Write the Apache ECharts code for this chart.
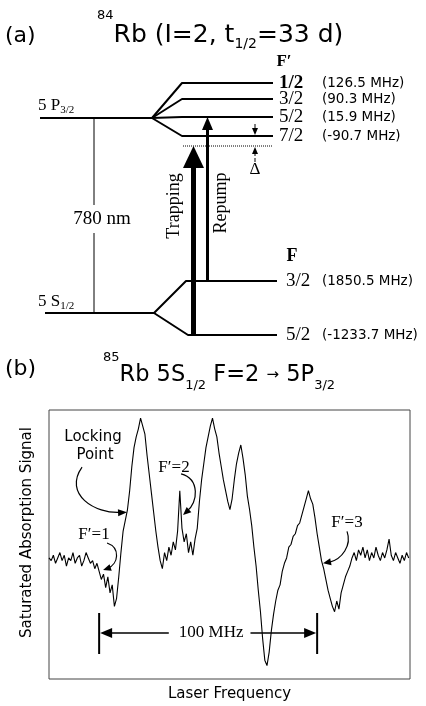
<!DOCTYPE html>
<html>
<head>
<meta charset="utf-8">
<title>Rb trapping scheme and saturated absorption</title>
<script src="https://cdn.jsdelivr.net/npm/echarts@6/dist/echarts.min.js"></script>
<style>
  html, body { margin: 0; padding: 0; background: #fff; }
  #chart { width: 426px; height: 706px; }
</style>
</head>
<body>
<div id="chart"></div>
<script>
//  (a) hyperfine levels of 84Rb
var upperF = ['1/2', '3/2', '5/2', '7/2'];
var upperShift = ['(126.5 MHz)', '(90.3 MHz)', '(15.9 MHz)', '(-90.7 MHz)'];
var lowerF = ['3/2', '5/2'];
var lowerShift = ['(1850.5 MHz)', '(-1233.7 MHz)'];

//  (b) saturated absorption trace (laser frequency in MHz, signal in arb. units)
var freqMHz = [0, 1, 2, 3, 4, 5, 6, 7, 8, 9, 10, 11, 12, 13, 14, 15, 16, 17, 18, 19,
    20, 21, 22, 23, 24, 25, 26, 27, 28, 29, 30, 31, 32, 33, 34, 35, 36, 37, 38, 39,
    40, 41, 42, 43, 44, 45, 46, 47, 48, 49, 50, 51, 52, 53, 54, 55, 56, 57, 58, 59,
    60, 61, 62, 63, 64, 65, 66, 67, 68, 69, 70, 71, 72, 73, 74, 75, 76, 77, 78, 79,
    80, 81, 82, 83, 84, 85, 86, 87, 88, 89, 90, 91, 92, 93, 94, 95, 96, 97, 98, 99,
    100, 101, 102, 103, 104, 105, 106, 107, 108, 109, 110, 111, 112, 113, 114, 115, 116, 117, 118, 119,
    120, 121, 122, 123, 124, 125, 126, 127, 128, 129, 130, 131, 132, 133, 134, 135, 136, 137, 138, 139,
    140, 141, 142, 143, 144, 145, 146, 147, 148, 149, 150, 151, 152, 153, 154, 155, 156, 157, 158, 159,
    160, 161, 162, 163, 164, 165];
var signal = [0.45, 0.44, 0.46, 0.43, 0.45, 0.47, 0.44, 0.46, 0.42, 0.45,
    0.44, 0.47, 0.43, 0.45, 0.46, 0.42, 0.44, 0.47, 0.45, 0.43,
    0.44, 0.41, 0.43, 0.40, 0.37, 0.39, 0.34, 0.38, 0.32, 0.35,
    0.27, 0.30, 0.38, 0.47, 0.55, 0.59, 0.63, 0.70, 0.79, 0.86,
    0.90, 0.93, 0.97, 0.94, 0.91, 0.83, 0.76, 0.69, 0.62, 0.55,
    0.49, 0.44, 0.41, 0.47, 0.44, 0.49, 0.46, 0.51, 0.48, 0.55,
    0.70, 0.56, 0.51, 0.54, 0.47, 0.51, 0.46, 0.52, 0.56, 0.66,
    0.74, 0.80, 0.86, 0.90, 0.94, 0.97, 0.93, 0.90, 0.84, 0.79,
    0.74, 0.70, 0.66, 0.63, 0.67, 0.74, 0.80, 0.84, 0.87, 0.82,
    0.76, 0.68, 0.63, 0.57, 0.49, 0.42, 0.33, 0.25, 0.15, 0.07,
    0.05, 0.10, 0.18, 0.24, 0.29, 0.33, 0.35, 0.40, 0.43, 0.45,
    0.49, 0.50, 0.53, 0.54, 0.57, 0.58, 0.61, 0.64, 0.67, 0.70,
    0.67, 0.65, 0.60, 0.54, 0.49, 0.44, 0.41, 0.37, 0.33, 0.30,
    0.27, 0.25, 0.29, 0.26, 0.32, 0.35, 0.38, 0.40, 0.42, 0.45,
    0.47, 0.44, 0.48, 0.46, 0.49, 0.45, 0.48, 0.44, 0.47, 0.45,
    0.49, 0.46, 0.44, 0.47, 0.45, 0.48, 0.52, 0.46, 0.44, 0.47,
    0.45, 0.43, 0.46, 0.44, 0.47, 0.45];
//  annotated features: name, frequency (MHz) and signal where the arrow points
var markNames = ['Locking Point', "F′=1", "F′=2", "F′=3"];
var markFreq = [35.8, 24.8, 61.5, 125.7];
var markSignal = [0.62, 0.405, 0.61, 0.43];
//  100 MHz scale bar
var scaleMHz = [23, 123];
var scaleSignal = 0.171;

var serif = '"Liberation Serif", "Times New Roman", serif';
var sans = '"DejaVu Sans", sans-serif';

//  schematic layout of panel (a), in canvas pixels
var lv = {
    pLeft: 40, pFan: 152, pSplit: 182, pEnd: 273, pY: 118,
    upperY: [83, 99, 117, 136],
    sLeft: 45, sFan: 154, sSplit: [186, 188], sEnd: 277, sY: 313,
    lowerY: [281, 335],
    nmX: 94, nmGap: [205, 233],
    detY: 146, detX: [183, 273],
    trapX: 193.5, repX: 207.5, deltaX: 255
};

function seg(pts, width, type) {
    return {
        type: 'line', xAxisIndex: 0, yAxisIndex: 0, data: pts, symbol: 'none', silent: true,
        lineStyle: {color: '#000', width: width, type: type || 'solid'}
    };
}

var series = [];
series.push(seg([[lv.pLeft, lv.pY], [lv.pFan, lv.pY]], 2));
lv.upperY.forEach(function (y) {
    series.push(seg([[lv.pFan, lv.pY], [lv.pSplit, y], [lv.pEnd, y]], 2));
});
series.push(seg([[lv.sLeft, lv.sY], [lv.sFan, lv.sY]], 2));
lv.lowerY.forEach(function (y, i) {
    series.push(seg([[lv.sFan, lv.sY], [lv.sSplit[i], y], [lv.sEnd, y]], 2));
});
series.push(seg([[lv.nmX, lv.pY], [lv.nmX, lv.nmGap[0]]], 1));
series.push(seg([[lv.nmX, lv.nmGap[1]], [lv.nmX, lv.sY]], 1));
series.push(seg([[lv.detX[0], lv.detY], [lv.detX[1], lv.detY]], 1, 'dotted'));
series.push(seg([[lv.trapX, lv.lowerY[1]], [lv.trapX, 166]], 5));
series.push(seg([[lv.repX, lv.lowerY[0]], [lv.repX, 129]], 3));
series.push(seg([[lv.deltaX, 124], [lv.deltaX, 130]], 1));
series.push(seg([[lv.deltaX, 152], [lv.deltaX, 163]], 1, 'dashed'));

//  absorption trace
series.push({
    name: 'Saturated absorption',
    type: 'line',
    xAxisIndex: 1,
    yAxisIndex: 1,
    data: freqMHz.map(function (f, i) { return [f, signal[i]]; }),
    symbol: 'none',
    silent: true,
    lineStyle: {color: '#000', width: 1.1}
});

var chart = echarts.init(document.getElementById('chart'));
chart.setOption({
    animation: false,
    backgroundColor: '#fff',
    grid: [
        {left: 0, top: 0, width: 426, height: 706, show: false},
        {left: 49, top: 410, width: 361, height: 269, show: true, borderColor: '#444', borderWidth: 1}
    ],
    xAxis: [
        {gridIndex: 0, type: 'value', min: 0, max: 426, show: false},
        {
            gridIndex: 1, type: 'value', min: 0, max: 165.6,
            axisLine: {show: false}, axisTick: {show: false}, axisLabel: {show: false}, splitLine: {show: false},
            name: 'Laser Frequency', nameLocation: 'middle', nameGap: 8,
            nameTextStyle: {fontSize: 15, fontFamily: sans, color: '#000', verticalAlign: 'top'}
        }
    ],
    yAxis: [
        {gridIndex: 0, type: 'value', min: 0, max: 706, inverse: true, show: false},
        {
            gridIndex: 1, type: 'value', min: 0, max: 1,
            axisLine: {show: false}, axisTick: {show: false}, axisLabel: {show: false}, splitLine: {show: false},
            name: 'Saturated Absorption Signal', nameLocation: 'middle', nameGap: 14, nameRotate: 90,
            nameTextStyle: {fontSize: 15, fontFamily: sans, color: '#000', padding: [0, 0, 0, 24]}
        }
    ],
    series: series
});

//  text helpers
var ctx = document.createElement('canvas').getContext('2d');
function textEl(x, y, str, size, fam, align, weight, rot) {
    return {
        type: 'text', x: x, y: y, rotation: rot || 0, silent: true,
        style: {
            text: str, fontSize: size, fontFamily: fam, fontWeight: weight || 'normal', fill: '#000',
            align: align || 'left', verticalAlign: 'middle',
            textAlign: align || 'left', textVerticalAlign: 'middle'
        }
    };
}
function textRun(x, y, parts) {
    var out = [];
    parts.forEach(function (p) {
        var fam = p.f || sans;
        out.push(textEl(x, y + (p.dy || 0), p.t, p.s, fam, 'left', p.w));
        ctx.font = (p.w || 'normal') + ' ' + p.s + 'px ' + fam;
        x += ctx.measureText(p.t).width;
    });
    return out;
}
function head(tip, from, len, hw) {
    var dx = tip[0] - from[0], dy = tip[1] - from[1];
    var d = Math.sqrt(dx * dx + dy * dy);
    dx /= d; dy /= d;
    var bx = tip[0] - dx * len, by = tip[1] - dy * len;
    return {
        type: 'polygon', silent: true,
        shape: {points: [tip, [bx - dy * hw, by + dx * hw], [bx + dy * hw, by - dx * hw]]},
        style: {fill: '#000'}
    };
}
function curve(p0, c1, c2, p3) {
    return {
        type: 'bezierCurve', silent: true,
        shape: {x1: p0[0], y1: p0[1], cpx1: c1[0], cpy1: c1[1], cpx2: c2[0], cpy2: c2[1], x2: p3[0], y2: p3[1]},
        style: {stroke: '#000', lineWidth: 1.2, fill: null}
    };
}
function line(x1, y1, x2, y2, w) {
    return {type: 'line', silent: true, shape: {x1: x1, y1: y1, x2: x2, y2: y2}, style: {stroke: '#000', lineWidth: w}};
}

var g = [];
//  panel (a)
g.push(textEl(5, 36, '(a)', 22, sans));
g = g.concat(textRun(97, 35, [
    {t: '84', s: 13, dy: -19},
    {t: 'Rb (I=2, t', s: 25},
    {t: '1/2', s: 14, dy: 9},
    {t: '=33 d)', s: 25}
]));
g.push(textEl(284, 62, 'F′', 17, serif, 'center', 'bold'));
upperF.forEach(function (f, i) {
    g.push(textEl(279, lv.upperY[i], f, 19, serif, 'left', i === 0 ? 'bold' : 'normal'));
    g.push(textEl(322, lv.upperY[i], upperShift[i], 13.5, sans));
});
g.push(textEl(292, 256, 'F', 18, serif, 'center', 'bold'));
lowerF.forEach(function (f, i) {
    g.push(textEl(286, lv.lowerY[i], f, 19, serif));
    g.push(textEl(322, lv.lowerY[i], lowerShift[i], 13.5, sans));
});
g = g.concat(textRun(38, 106, [{t: '5 P', s: 17, f: serif}, {t: '3/2', s: 11, f: serif, dy: 4}]));
g = g.concat(textRun(38, 302, [{t: '5 S', s: 17, f: serif}, {t: '1/2', s: 11, f: serif, dy: 4}]));
g.push(textEl(102, 219, '780 nm', 19, serif, 'center'));
g.push(textEl(lv.deltaX, 170, 'Δ', 17, serif, 'center'));
g.push(textEl(174, 206, 'Trapping', 18, serif, 'center', 'normal', Math.PI / 2));
g.push(textEl(221, 203, 'Repump', 18, serif, 'center', 'normal', Math.PI / 2));
g.push(head([lv.trapX, lv.detY], [lv.trapX, 300], 22, 10.5));
g.push(head([lv.repX, lv.upperY[2]], [lv.repX, 300], 13, 5.5));
g.push(head([lv.deltaX, lv.upperY[3] - 1], [lv.deltaX, 100], 7, 3));
g.push(head([lv.deltaX, lv.detY + 1], [lv.deltaX, 200], 7, 3));

//  panel (b)
g.push(textEl(5, 369, '(b)', 22, sans));
g = g.concat(textRun(103, 375, [
    {t: '85', s: 13, dy: -17},
    {t: 'Rb 5S', s: 22.5},
    {t: '1/2', s: 13, dy: 11},
    {t: ' F=2 ', s: 22.5},
    {t: '→', s: 15},
    {t: ' 5P', s: 22.5},
    {t: '3/2', s: 13, dy: 11}
]));

function px(f, s) {
    return chart.convertToPixel({xAxisIndex: 1, yAxisIndex: 1}, [f, s]);
}
var tips = markFreq.map(function (f, i) { return px(f, markSignal[i]); });

//  Locking Point
var t = tips[0];
g.push(textEl(93, 437, 'Locking', 15, sans, 'center'));
g.push(textEl(95, 455, 'Point', 15, sans, 'center'));
g.push(curve([t[0] - 45, t[1] - 45], [t[0] - 64, t[1] - 18], [t[0] - 32, t[1] + 2], [t[0] - 6, t[1]]));
g.push(head(t, [t[0] - 20, t[1] + 1], 9, 3.5));
//  F'=1
t = tips[1];
g.push(textEl(94, 535, markNames[1], 17, serif, 'center'));
g.push(curve([t[0] + 4, t[1] - 27], [t[0] + 18, t[1] - 22], [t[0] + 15, t[1] - 6], [t[0] + 5, t[1] - 2]));
g.push(head(t, [t[0] + 12, t[1] - 4], 8, 3.5));
//  F'=2
t = tips[2];
g.push(textEl(174, 468, markNames[2], 17, serif, 'center'));
g.push(curve([t[0] - 2, t[1] - 41], [t[0] + 17, t[1] - 36], [t[0] + 15, t[1] - 12], [t[0] + 4, t[1] - 4]));
g.push(head(t, [t[0] + 10, t[1] - 9], 8, 3.5));
//  F'=3
t = tips[3];
g.push(textEl(347, 523, markNames[3], 17, serif, 'center'));
g.push(curve([t[0] + 24, t[1] - 32], [t[0] + 29, t[1] - 18], [t[0] + 19, t[1] - 4], [t[0] + 6, t[1] - 1]));
g.push(head(t, [t[0] + 15, t[1] - 3], 8, 3.5));

//  100 MHz scale bar
var a = px(scaleMHz[0], scaleSignal), b = px(scaleMHz[1], scaleSignal);
var mid = (a[0] + b[0]) / 2 + 3;
ctx.font = '17px ' + serif;
var tw = ctx.measureText('100 MHz').width;
g.push(line(a[0], a[1] - 20, a[0], a[1] + 21, 2));
g.push(line(b[0], b[1] - 20, b[0], b[1] + 21, 2));
g.push(line(a[0] + 8, a[1], mid - tw / 2 - 10, a[1], 1.6));
g.push(line(mid + tw / 2 + 7, b[1], b[0] - 8, b[1], 1.6));
g.push(head([a[0] + 1, a[1]], [a[0] + 30, a[1]], 12, 5));
g.push(head([b[0] - 1, b[1]], [b[0] - 30, b[1]], 12, 5));
g.push(textEl(mid, a[1], '100 MHz', 17, serif, 'center'));

chart.setOption({graphic: {elements: g}});
</script>
</body>
</html>
